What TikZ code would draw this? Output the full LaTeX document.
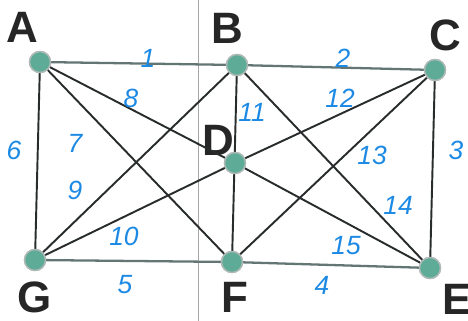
\documentclass[tikz,border=0pt]{standalone}
\usepackage{fontspec}
\setmainfont{Liberation Sans}
\usepackage{xcolor}

\definecolor{dotfill}{RGB}{94,172,152}
\definecolor{dotrim}{RGB}{175,185,182}
\definecolor{edgeink}{RGB}{40,44,44}
\definecolor{rimink}{RGB}{100,118,116}
\definecolor{penblue}{RGB}{28,138,228}

\tikzset{
  dot/.style={circle, fill=dotfill, draw=dotrim, line width=0.8pt, minimum size=0.42cm, inner sep=0pt},
  letter/.style={font=\fontsize{25}{25}\selectfont\bfseries, text=black!85},
  weight/.style={font=\fontsize{15}{15}\selectfont\itshape, text=penblue},
  wire/.style={draw=edgeink, line width=1.1pt},
  rim/.style={draw=rimink, line width=1.3pt},
}

\begin{document}
\begin{tikzpicture}
\useasboundingbox (0,0) rectangle (9.36,6.42);

% fold of the scanned page
\draw[black!35, line width=0.5pt] (3.96,0) -- (3.96,6.42);

\node[dot] (a) at (0.80,5.18) {};
\node[dot] (b) at (4.74,5.12) {};
\node[dot] (c) at (8.70,5.02) {};
\node[dot] (d) at (4.70,3.16) {};
\node[dot] (g) at (0.70,1.22) {};
\node[dot] (f) at (4.64,1.18) {};
\node[dot] (e) at (8.60,1.06) {};

\node[letter] (la) at (0.44,5.88) {A};
\node[letter] (lb) at (4.54,5.86) {B};
\node[letter] (lc) at (8.90,5.72) {C};
\node[letter] (ld) at (4.36,3.62) {D};
\node[letter] (lg) at (0.70,0.48) {G};
\node[letter] (lf) at (4.70,0.48) {F};
\node[letter] (le) at (9.14,0.44) {E};

\draw[rim] (a) -- (b);
\draw[rim] (b) -- (c);
\draw[wire] (c) -- (e);
\draw[rim] (e) -- (f);
\draw[rim] (f) -- (g);
\draw[wire] (g) -- (a);
\draw[wire] (a) -- (f);
\draw[wire] (a) -- (d);
\draw[wire] (g) -- (b);
\draw[wire] (g) -- (d);
\draw[wire] (b) -- (f);
\draw[wire] (c) -- (d);
\draw[wire] (c) -- (f);
\draw[wire] (b) -- (e);
\draw[wire] (d) -- (e);

% redraw the dots over the edges
\foreach \v in {a,b,c,d,e,f,g}
  \node[dot] at (\v) {};

\node[weight] (w1) at (2.96,5.26) {1};
\node[weight] (w2) at (6.86,5.26) {2};
\node[weight] (w3) at (9.12,3.42) {3};
\node[weight] (w4) at (6.44,0.72) {4};
\node[weight] (w5) at (2.50,0.72) {5};
\node[weight] (w6) at (0.28,3.42) {6};
\node[weight] (w7) at (1.50,3.56) {7};
\node[weight] (w8) at (2.62,4.46) {8};
\node[weight] (w9) at (1.50,2.62) {9};
\node[weight] (w10) at (2.48,1.70) {10};
\node[weight] (w11) at (5.04,4.18) {11};
\node[weight] (w12) at (6.80,4.46) {12};
\node[weight] (w13) at (7.44,3.32) {13};
\node[weight] (w14) at (7.96,2.32) {14};
\node[weight] (w15) at (6.92,1.50) {15};

\end{tikzpicture}
\end{document}
